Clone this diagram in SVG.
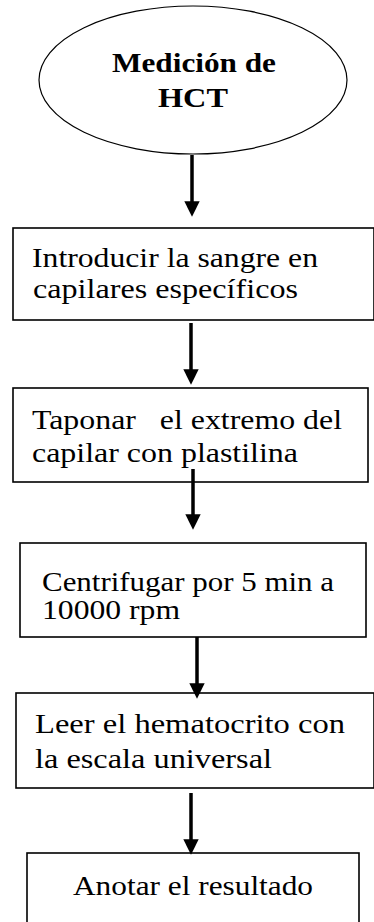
<svg xmlns="http://www.w3.org/2000/svg" width="374" height="922" viewBox="0 0 374 922">
<style>
.box{fill:#fff;stroke:#000;stroke-width:1.6}
.t{font-size:27px;fill:#000;white-space:pre}
.tb{font-size:28px;font-weight:bold;fill:#000}
.arr{stroke:#000;stroke-width:3.5;fill:none}
</style>
<defs>
<marker id="ah" markerWidth="4.4" markerHeight="4.4" refX="0.2" refY="2.2" orient="auto" markerUnits="strokeWidth">
<path d="M0,0 L4.4,2.2 L0,4.4 Z" fill="#000"/>
</marker>
</defs>
<rect width="374" height="922" fill="#fff"/>
<g font-family="Liberation Serif, Tinos, Times New Roman, DejaVu Serif, serif">
<g id="start">
<ellipse cx="193" cy="80" rx="154" ry="74" fill="#fff" stroke="#000" stroke-width="1.2"/>
<text class="tb" x="112" y="72" textLength="164" lengthAdjust="spacingAndGlyphs">Medición de</text>
<text class="tb" x="158" y="107" textLength="70" lengthAdjust="spacingAndGlyphs">HCT</text>
</g>
<g id="step1">
<rect class="box" x="13" y="228" width="361" height="92"/>
<text class="t" x="32" y="267" textLength="286" lengthAdjust="spacingAndGlyphs">Introducir la sangre en</text>
<text class="t" x="33" y="298" textLength="265" lengthAdjust="spacingAndGlyphs">capilares específicos</text>
</g>
<g id="step2">
<rect class="box" x="13" y="388" width="355" height="94"/>
<text class="t" x="32" y="429" textLength="310" lengthAdjust="spacingAndGlyphs">Taponar   el extremo del</text>
<text class="t" x="32" y="462" textLength="266" lengthAdjust="spacingAndGlyphs">capilar con plastilina</text>
</g>
<g id="step3">
<rect class="box" x="20" y="543" width="346" height="94"/>
<text class="t" x="42" y="591" textLength="292" lengthAdjust="spacingAndGlyphs">Centrifugar por 5 min a</text>
<text class="t" x="42" y="619" textLength="138" lengthAdjust="spacingAndGlyphs">10000 rpm</text>
</g>
<g id="step4">
<rect class="box" x="16" y="693" width="358" height="95"/>
<text class="t" x="35" y="733" textLength="310" lengthAdjust="spacingAndGlyphs">Leer el hematocrito con</text>
<text class="t" x="35" y="768" textLength="237" lengthAdjust="spacingAndGlyphs">la escala universal</text>
</g>
<g id="step5">
<rect class="box" x="27" y="853" width="332" height="80"/>
<text class="t" x="73" y="895" textLength="240" lengthAdjust="spacingAndGlyphs">Anotar el resultado</text>
</g>
</g>
<g id="connectors">
<line class="arr" x1="192" y1="155" x2="192" y2="202" marker-end="url(#ah)"/>
<line class="arr" x1="191" y1="323" x2="191" y2="370" marker-end="url(#ah)"/>
<line class="arr" x1="193" y1="469" x2="193" y2="515" marker-end="url(#ah)"/>
<line class="arr" x1="197" y1="637" x2="197" y2="684" marker-end="url(#ah)"/>
<line class="arr" x1="191" y1="793" x2="191" y2="840" marker-end="url(#ah)"/>
</g>
</svg>
